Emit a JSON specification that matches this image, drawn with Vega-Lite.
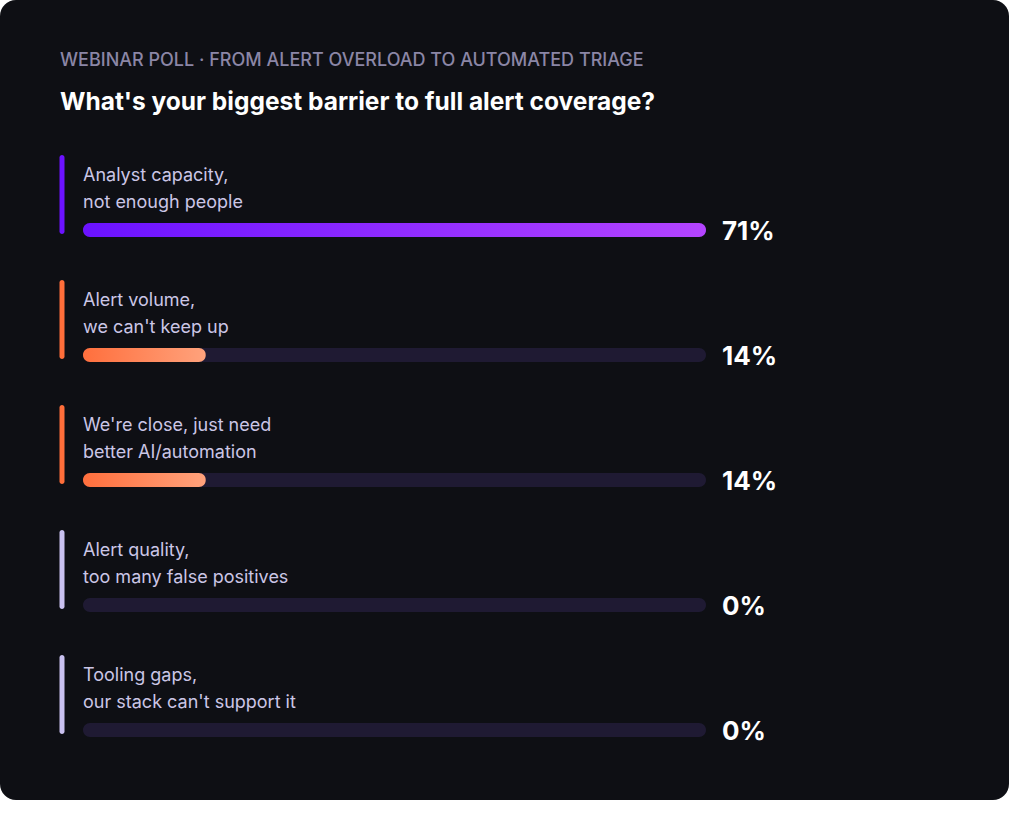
{
  "$schema": "https://vega.github.io/schema/vega-lite/v6.json",
  "width": 1024,
  "height": 816,
  "autosize": {"type": "fit", "contains": "padding"},
  "padding": {"left": 0, "top": 0, "right": 15, "bottom": 16},
  "background": "#ffffff",
  "config": {
    "view": {"fill": "#0e0f14", "stroke": null, "cornerRadius": 16},
    "font": "Inter"
  },
  "title": {
    "text": "WEBINAR POLL · FROM ALERT OVERLOAD TO AUTOMATED TRIAGE",
    "subtitle": "What's your biggest barrier to full alert coverage?",
    "anchor": "start",
    "frame": "group",
    "orient": "top",
    "offset": -114,
    "dx": 60,
    "fontSize": 18,
    "fontWeight": 500,
    "color": "#8b86a6",
    "subtitleFontSize": 24.5,
    "subtitleFontWeight": 700,
    "subtitleColor": "#ffffff",
    "subtitlePadding": 21
  },
  "data": {
    "values": [
      {"option": "Analyst capacity,\nnot enough people", "share": 0.71, "tone": "primary"},
      {"option": "Alert volume,\nwe can't keep up", "share": 0.14, "tone": "warm"},
      {"option": "We're close, just need\nbetter AI/automation", "share": 0.14, "tone": "warm"},
      {"option": "Alert quality,\ntoo many false positives", "share": 0, "tone": "muted"},
      {"option": "Tooling gaps,\nour stack can't support it", "share": 0, "tone": "muted"}
    ]
  },
  "encoding": {
    "y": {
      "field": "option",
      "type": "nominal",
      "sort": null,
      "scale": {"type": "band", "range": [167.5, 792.5], "paddingInner": 0, "paddingOuter": 0},
      "axis": null
    }
  },
  "layer": [
    {
      "mark": {"type": "bar", "height": 14, "cornerRadius": 7, "color": "#1f1a33"},
      "encoding": {
        "x": {"datum": 0.71, "type": "quantitative", "scale": {"domain": [0, 0.71], "range": [83, 706], "nice": false, "zero": true}, "axis": null}
      }
    },
    {
      "transform": [{"filter": "datum.tone == 'primary'"}],
      "mark": {
        "type": "bar",
        "height": 14,
        "cornerRadius": 7,
        "fill": {
          "gradient": "linear",
          "x1": 0, "y1": 0, "x2": 1, "y2": 0,
          "stops": [
            {"offset": 0, "color": "#6a12ff"},
            {"offset": 1, "color": "#b444ff"}
          ]
        }
      },
      "encoding": {
        "x": {"field": "share", "type": "quantitative"}
      }
    },
    {
      "transform": [{"filter": "datum.tone == 'warm'"}],
      "mark": {
        "type": "bar",
        "height": 14,
        "cornerRadius": 7,
        "fill": {
          "gradient": "linear",
          "x1": 0, "y1": 0, "x2": 1, "y2": 0,
          "stops": [
            {"offset": 0, "color": "#ff6f3d"},
            {"offset": 1, "color": "#ffa27c"}
          ]
        }
      },
      "encoding": {
        "x": {"field": "share", "type": "quantitative"}
      }
    },
    {
      "mark": {"type": "tick", "orient": "vertical", "size": 79, "thickness": 5, "cornerRadius": 2.5, "opacity": 1, "xOffset": -21, "yOffset": -35.5},
      "encoding": {
        "x": {"datum": 0, "type": "quantitative"},
        "color": {
          "field": "tone",
          "type": "nominal",
          "scale": {"domain": ["primary", "warm", "muted"], "range": ["#6c12ff", "#ff6e3a", "#c9c1f0"]},
          "legend": null
        }
      }
    },
    {
      "mark": {"type": "text", "align": "left", "baseline": "alphabetic", "lineBreak": "\n", "lineHeight": 26.7, "fontSize": 18, "fontWeight": 400, "color": "#cbc6e6", "dy": -48.7},
      "encoding": {
        "x": {"datum": 0, "type": "quantitative"},
        "text": {"field": "option", "type": "nominal"}
      }
    },
    {
      "mark": {"type": "text", "align": "left", "baseline": "alphabetic", "fontSize": 26, "fontWeight": 700, "color": "#ffffff", "dx": 16, "dy": 9.5},
      "encoding": {
        "x": {"datum": 0.71, "type": "quantitative"},
        "text": {"field": "share", "type": "quantitative", "format": ".0%"}
      }
    }
  ]
}
